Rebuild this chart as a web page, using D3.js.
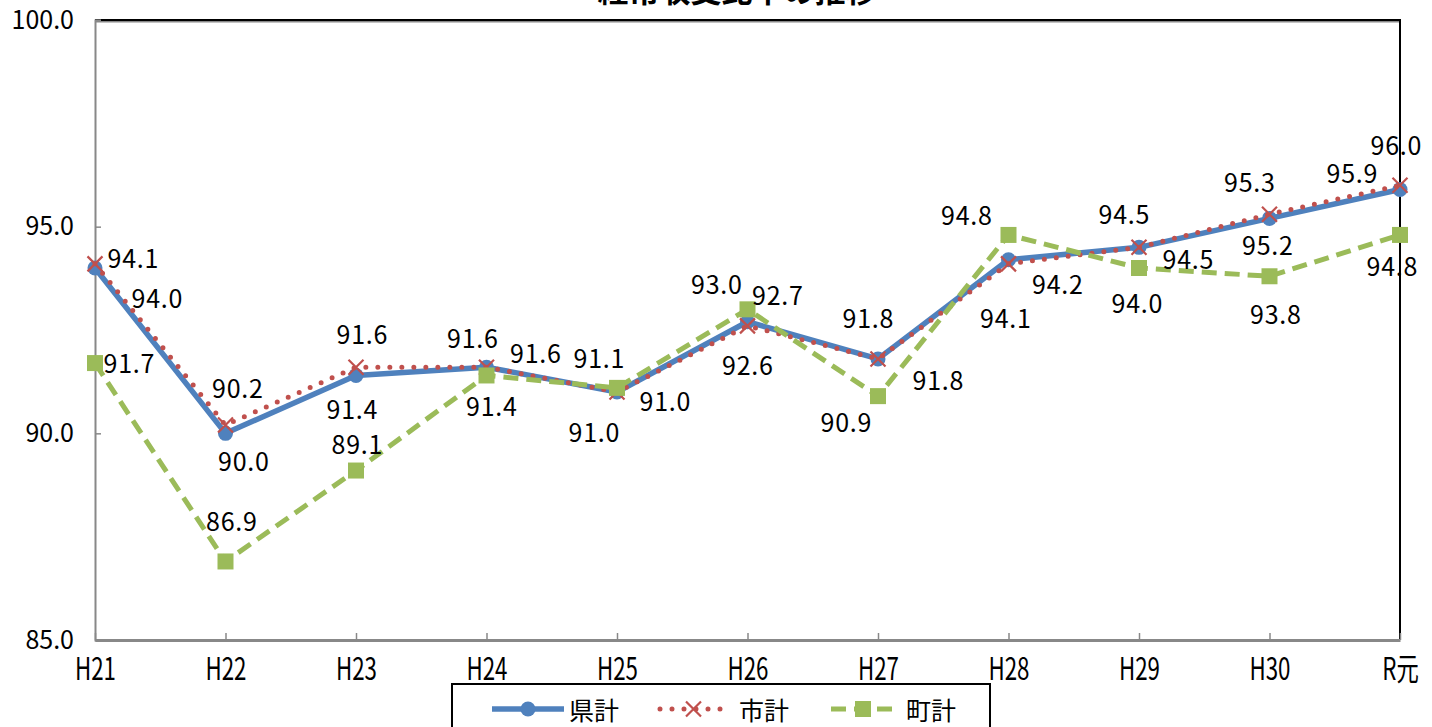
<!DOCTYPE html>
<html lang="ja">
<head>
<meta charset="utf-8">
<script src="https://cdn.jsdelivr.net/npm/d3@7"></script>
<style>
  html, body { margin: 0; padding: 0; background: #fff; }
  svg { display: block; }
  text { font-family: "Noto Sans CJK JP", "Noto Sans", sans-serif; fill: #000; }
</style>
</head>
<body>
<svg id="chart" width="1432" height="727"></svg>
<script>
// 年度
const categories = ["H21", "H22", "H23", "H24", "H25", "H26", "H27", "H28", "H29", "H30", "R元"];

// 経常収支比率（%）
const kenkei = [94.0, 90.0, 91.4, 91.6, 91.0, 92.7, 91.8, 94.2, 94.5, 95.2, 95.9];
const shikei = [94.1, 90.2, 91.6, 91.6, 91.0, 92.6, 91.8, 94.1, 94.5, 95.3, 96.0];
const chokei = [91.7, 86.9, 89.1, 91.4, 91.1, 93.0, 90.9, 94.8, 94.0, 93.8, 94.8];

const yTicks = [85, 90, 95, 100];

// データラベルの位置（点からのずれ, px）
const kenLabelOffsets = [[62, 29], [18, 27], [-4, 33], [49, -15], [48, 8], [30, -28], [60, 20], [49, 23], [49, 11], [-2, 26], [-48, -17]];
const shiLabelOffsets = [[38, -7], [12, -38], [6, -34], [-14, -30], [-23, 39], [0, 38], [-10, -42], [-3, 53], [-15, -34], [-20, -33], [-4, -41]];
const choLabelOffsets = [[34, -1], [6, -41], [1, -28], [5, 30], [-18, -31], [-31, -26], [-32, 25], [-42, -21], [-2, 34], [6, 37], [-8, 30]];

const series = [
  { name: "県計", values: kenkei, offsets: kenLabelOffsets, color: "#4F81BD", marker: "circle" },
  { name: "市計", values: shikei, offsets: shiLabelOffsets, color: "#C0504D", marker: "cross" },
  { name: "町計", values: chokei, offsets: choLabelOffsets, color: "#9BBB59", marker: "square" }
];

const svg = d3.select("#chart");
const plotLeft = 95, plotRight = 1400, plotTop = 20, plotBottom = 640;

const x = d3.scalePoint().domain(categories).range([plotLeft, plotRight]);
const y = d3.scaleLinear().domain([85, 100]).range([plotBottom, plotTop]);

// タイトル
svg.append("text")
  .attr("x", 737).attr("y", 2)
  .attr("text-anchor", "middle")
  .attr("font-size", 31).attr("font-weight", "bold")
  .text("経常収支比率の推移");

// 枠（上・右）
svg.append("line").attr("x1", plotLeft).attr("x2", plotRight + 1).attr("y1", plotTop + 1.5).attr("y2", plotTop + 1.5)
  .attr("stroke", "#888").attr("stroke-width", 2);
svg.append("line").attr("x1", plotLeft).attr("x2", plotRight + 1).attr("y1", plotTop).attr("y2", plotTop)
  .attr("stroke", "#000").attr("stroke-width", 2);
svg.append("line").attr("x1", plotRight).attr("x2", plotRight).attr("y1", plotTop).attr("y2", plotBottom)
  .attr("stroke", "#000").attr("stroke-width", 2);

// Y軸
const yAxis = svg.append("g")
  .attr("transform", `translate(${plotLeft},0)`)
  .call(d3.axisLeft(y).tickValues(yTicks).tickFormat(d3.format(".1f")).tickSize(-6).tickPadding(21));
yAxis.select(".domain").attr("stroke", "#888").attr("stroke-width", 2);
yAxis.selectAll(".tick line").attr("stroke", "#888").attr("stroke-width", 1.5);
yAxis.selectAll(".tick text").attr("font-size", 25).attr("font-family", "Noto Sans CJK JP");

// X軸
const xAxis = svg.append("g")
  .attr("transform", `translate(0,${plotBottom})`)
  .call(d3.axisBottom(x).tickSize(-7).tickPadding(18).tickSizeOuter(0));
xAxis.select(".domain").attr("stroke", "#888").attr("stroke-width", 3);
xAxis.selectAll(".tick line").attr("stroke", "#888").attr("stroke-width", 1.5);
xAxis.selectAll(".tick text")
  .attr("font-size", 31)
  .attr("font-family", "Noto Sans CJK JP")
  .attr("transform", "scale(0.72,1)");

const line = d3.line().x((d, i) => x(categories[i])).y(d => y(d));

function drawMarker(g, type, color, cx, cy) {
  if (type === "circle") {
    g.append("circle").attr("cx", cx).attr("cy", cy).attr("r", 7.5).attr("fill", color);
  } else if (type === "square") {
    g.append("rect").attr("x", cx - 8).attr("y", cy - 8).attr("width", 16).attr("height", 16).attr("fill", color);
  } else {
    const s = 7.5;
    g.append("path")
      .attr("d", `M${cx - s},${cy - s}L${cx + s},${cy + s}M${cx - s},${cy + s}L${cx + s},${cy - s}`)
      .attr("stroke", color).attr("stroke-width", 2.2).attr("fill", "none");
  }
}

function lineStyle(sel, s) {
  sel.attr("fill", "none").attr("stroke", s.color);
  if (s.marker === "circle") {
    sel.attr("stroke-width", 5.5).attr("stroke-linejoin", "round");
  } else if (s.marker === "cross") {
    sel.attr("stroke-width", 5).attr("stroke-linecap", "round").attr("stroke-dasharray", "0 12");
  } else {
    sel.attr("stroke-width", 5).attr("stroke-dasharray", "15 8");
  }
}

// 系列
series.forEach(s => {
  const g = svg.append("g");
  g.append("path").datum(s.values).attr("d", line).call(lineStyle, s);
  s.values.forEach((v, i) => drawMarker(g, s.marker, s.color, x(categories[i]), y(v)));
});

// データラベル
series.forEach(s => {
  svg.append("g").selectAll("text")
    .data(s.values)
    .join("text")
    .attr("x", (d, i) => x(categories[i]) + s.offsets[i][0])
    .attr("y", (d, i) => y(d) + s.offsets[i][1])
    .attr("text-anchor", "middle")
    .attr("dominant-baseline", "central")
    .attr("font-size", 25)
    .attr("textLength", 51)
    .attr("lengthAdjust", "spacing")
    .text(d => d.toFixed(1));
});

// 凡例
const legend = svg.append("g");
legend.append("rect").attr("x", 452).attr("y", 684).attr("width", 538).attr("height", 60)
  .attr("fill", "#fff").attr("stroke", "#000").attr("stroke-width", 2);
const legendItems = [
  { x0: 492, x1: 564, tx: 569 },
  { x0: 660, x1: 727, tx: 739 },
  { x0: 831, x1: 895, tx: 906 }
];
const ly = 709;
series.forEach((s, i) => {
  const it = legendItems[i];
  legend.append("path").attr("d", `M${it.x0},${ly}L${it.x1},${ly}`).call(lineStyle, s);
  drawMarker(legend, s.marker, s.color, (it.x0 + it.x1) / 2, ly);
  legend.append("text").attr("x", it.tx).attr("y", ly)
    .attr("dominant-baseline", "central")
    .attr("font-size", 25)
    .text(s.name);
});
</script>
</body>
</html>
